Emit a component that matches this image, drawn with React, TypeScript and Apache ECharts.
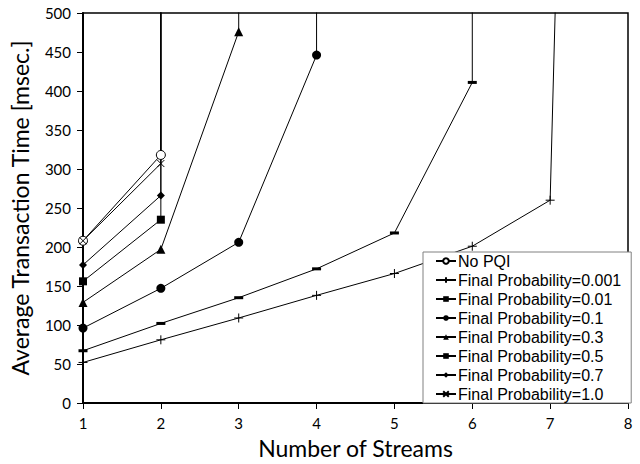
import React, { useEffect, useRef } from "react";
import * as echarts from "echarts";

// Number of concurrent streams (x) against mean transaction time in msec (y).
// The last point of a series is the saturated value that runs off the top of the chart.
const noPqi: [number, number][] = [[1, 208], [2, 318], [2, 1500]];
const prob0001: [number, number][] = [[1, 52], [2, 81], [3, 109], [4, 138], [5, 166], [6, 201], [7, 260], [8, 4000]];
const prob001: [number, number][] = [[1, 67], [2, 102], [3, 135], [4, 172], [5, 218], [6, 411], [6, 1500]];
const prob01: [number, number][] = [[1, 96], [2, 147], [3, 206], [4, 446], [4, 1500]];
const prob03: [number, number][] = [[1, 129], [2, 197], [3, 476], [3, 1500]];
const prob05: [number, number][] = [[1, 156], [2, 235], [2, 1500]];
const prob07: [number, number][] = [[1, 177], [2, 266], [2, 1500]];
const prob10: [number, number][] = [[1, 208], [2, 307], [2, 1500]];

const seriesNames = [
  "No PQI",
  "Final Probability=0.001",
  "Final Probability=0.01",
  "Final Probability=0.1",
  "Final Probability=0.3",
  "Final Probability=0.5",
  "Final Probability=0.7",
  "Final Probability=1.0",
];

const FONT = "Lato, 'Open Sans', sans-serif";
const LEGEND_FONT = "'Liberation Sans', Arial, sans-serif";
const PLUS = "path://M0,5L10,5M5,0L5,10";
const CROSS = "path://M0,0L10,10M10,0L0,10";

export default function App() {
  const ref = useRef<HTMLDivElement>(null);

  useEffect(() => {
    if (!ref.current) return;
    const chart = echarts.init(ref.current, undefined, { renderer: "svg" });

    const mk = (
      name: string,
      data: [number, number][],
      symbol: string,
      symbolSize: number | number[],
      fill: string,
      stroke: string,
      strokeWidth: number
    ) => ({
      name,
      type: "line",
      data,
      symbol,
      symbolSize,
      showSymbol: true,
      clip: true,
      lineStyle: { color: "#000", width: 1 },
      itemStyle: { color: fill, borderColor: stroke, borderWidth: strokeWidth },
      emphasis: { disabled: true },
    });

    const series = [
      mk(seriesNames[0], noPqi, "circle", 9, "#fff", "#000", 1),
      mk(seriesNames[1], prob0001, PLUS, 9, "none", "#000", 1),
      mk(seriesNames[2], prob001, "rect", [9, 3], "#000", "#000", 0),
      mk(seriesNames[3], prob01, "circle", 9, "#000", "#000", 0),
      mk(seriesNames[4], prob03, "triangle", 9, "#000", "#000", 0),
      mk(seriesNames[5], prob05, "rect", 8, "#000", "#000", 0),
      mk(seriesNames[6], prob07, "diamond", 8, "#000", "#000", 0),
      mk(seriesNames[7], prob10, CROSS, 7, "none", "#000", 1),
    ];

    chart.setOption({
      animation: false,
      backgroundColor: "#fff",
      textStyle: { fontFamily: FONT, color: "#000" },
      grid: {
        left: 82,
        right: 12,
        top: 13,
        bottom: 60,
        show: true,
        borderColor: "#000",
        borderWidth: 1.5,
        backgroundColor: "transparent",
      },
      legend: {
        orient: "vertical",
        left: 423,
        top: 252,
        data: seriesNames,
        itemWidth: 20,
        itemHeight: 7,
        itemGap: 3,
        padding: [1, 10, 1, 12],
        backgroundColor: "#fff",
        borderColor: "#808080",
        borderWidth: 1,
        borderRadius: 0,
        selectedMode: false,
        textStyle: { fontFamily: LEGEND_FONT, fontSize: 16, color: "#000", padding: [0, 0, 0, -3] },
        z: 10,
      },
      xAxis: {
        type: "value",
        min: 1,
        max: 8,
        interval: 1,
        name: "Number of Streams",
        nameLocation: "middle",
        nameGap: 33,
        nameTextStyle: { fontFamily: FONT, fontSize: 23, color: "#000" },
        axisLine: { show: true, onZero: false, lineStyle: { color: "#000", width: 2 } },
        axisTick: { show: true, inside: false, length: 6, lineStyle: { color: "#000", width: 1 } },
        axisLabel: { fontFamily: FONT, fontSize: 15, color: "#000", margin: 12 },
        splitLine: { show: false },
      },
      yAxis: {
        type: "value",
        min: 0,
        max: 500,
        interval: 50,
        name: "Average Transaction Time [msec.]",
        nameLocation: "middle",
        nameGap: 52,
        nameTextStyle: { fontFamily: FONT, fontSize: 23, color: "#000" },
        axisLine: { show: true, onZero: false, lineStyle: { color: "#000", width: 2 } },
        axisTick: { show: true, inside: false, length: 6, lineStyle: { color: "#000", width: 1 } },
        axisLabel: { fontFamily: FONT, fontSize: 15, color: "#000", margin: 12 },
        splitLine: { show: false },
      },
      series,
    });

    return () => chart.dispose();
  }, []);

  return (
    <div
      ref={ref}
      style={{ position: "fixed", left: 0, top: 0, width: 640, height: 464, background: "#fff" }}
    />
  );
}
